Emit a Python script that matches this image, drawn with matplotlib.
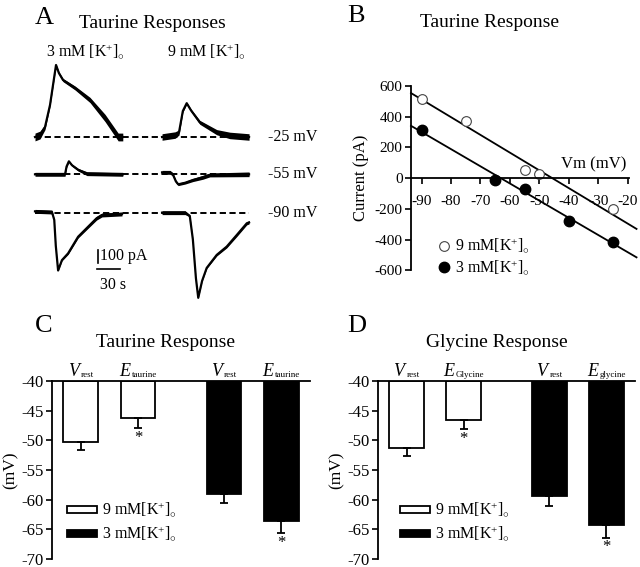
import numpy as np
import matplotlib
matplotlib.use("Agg")
import matplotlib.pyplot as plt
from matplotlib.patches import Patch

plt.rcParams['font.family'] = ['Liberation Serif', 'DejaVu Serif']
plt.rcParams['mathtext.fontset'] = 'custom'
plt.rcParams['mathtext.rm'] = 'Liberation Serif'
plt.rcParams['mathtext.it'] = 'Liberation Serif:italic'
plt.rcParams['axes.linewidth'] = 1.3
plt.rcParams['axes.unicode_minus'] = False

# ---- panel A: taurine current traces (time s, current pA, noise half-band pA)
hold_labels = ["-25 mV", "-55 mV", "-90 mV"]
k3_t = [[0, 6.5, 13, 19.5, 27.3, 31, 36.4, 52, 71.4, 91, 108, 114],
        [0, 39, 41, 44, 48, 56, 67.5, 114],
        [0, 22, 25, 27, 30, 35, 43, 56, 69, 80, 87, 113]]
k3_i = [[0, 15, 77, 246, 554, 492, 438, 377, 285, 146, 0, 0],
        [0, 0, 60, 100, 70, 35, 5, 0],
        [15, 10, -50, -250, -440, -360, -308, -180, -103, -38, -13, -5]]
k3_n = [[30, 30, 20, 10, 8, 10, 12, 15, 20, 28, 30, 30],
        [15, 15, 8, 6, 8, 10, 15, 15],
        [15, 15, 5, 3, 3, 5, 8, 10, 12, 14, 15, 15]]
k9_t = [[0, 17, 22, 27, 32, 37.7, 49, 71, 88, 113],
        [0, 10.4, 14, 18, 21, 30, 40, 53, 62, 113],
        [0, 30, 36, 40, 44, 47, 52, 58, 71, 84, 97, 110, 113]]
k9_i = [[0, 15, 35, 200, 260, 204, 113, 37, 12, 0],
        [15, 15, 0, -55, -77, -65, -44, -23, -5, 0],
        [5, 5, -20, -200, -500, -650, -520, -420, -320, -256, -167, -77, -70]]
k9_n = [[25, 25, 20, 10, 8, 10, 15, 20, 25, 25],
        [15, 15, 12, 10, 10, 10, 12, 15, 15, 18],
        [15, 15, 8, 3, 3, 3, 3, 5, 8, 10, 12, 12, 12]]

# ---- panel B: I-V relation
vm_9 = [-90, -75, -55, -50, -25]
cur_9 = [516, 373, 54, 28, -202]
vm_3 = [-90, -65, -55, -40, -25]
cur_3 = [314, -11, -72, -276, -417]
fit_vm = [-93.6, -17.0]
fit_9 = [554, -330]
fit_3 = [341, -515]

# ---- panels C, D: reversal potentials (symbol, subscript)
tau_labels = [('V', 'rest'), ('E', 'taurine'), ('V', 'rest'), ('E', 'taurine')]
tau_mean = [-50.3, -46.2, -59.0, -63.6]
tau_err = [1.3, 1.8, 1.5, 2.1]
tau_sig = [False, True, False, True]
gly_labels = [('V', 'rest'), ('E', 'Glycine'), ('V', 'rest'), ('E', 'glycine')]
gly_mean = [-51.3, -46.6, -59.3, -64.2]
gly_err = [1.3, 1.5, 1.7, 2.2]
gly_sig = [False, True, False, True]
k_lab9 = r'9 mM[K$^{+}$]$_{\circ}$'
k_lab3 = r'3 mM[K$^{+}$]$_{\circ}$'

W, H = 640, 567
fig = plt.figure(figsize=(W / 100, H / 100), dpi=100)


def px_axes(x0, y0, x1, y1):
    return fig.add_axes([x0 / W, 1 - y1 / H, (x1 - x0) / W, (y1 - y0) / H])


def ftext(x, y, s, **kw):
    return fig.text(x / W, 1 - y / H, s, **kw)


# ================= A
axA = px_axes(30, 55, 330, 300)
axA.set_xlim(-6.5, (330 - 35) / 0.77)
axA.set_ylim((137 - 300) / 0.13, (137 - 55) / 0.13)
axA.axis('off')
row_off = [0, -287, -587]
grp_off = [0, 165]
for r in range(3):
    axA.plot([0, 278], [row_off[r]] * 2, color='k', lw=1.4, ls=(0, (3.2, 1.8)), zorder=1)
    for g, (tt, ii, nn) in enumerate([(k3_t, k3_i, k3_n), (k9_t, k9_i, k9_n)]):
        t = np.array(tt[r]) + grp_off[g]
        i = np.array(ii[r]) + row_off[r]
        n = np.array(nn[r])
        axA.fill_between(t, i - n, i + n, color='k', lw=0, zorder=2)
        axA.plot(t, i, color='k', lw=1.6, zorder=3)
    axA.text(302, row_off[r], hold_labels[r], fontsize=11.5, va='center', ha='left')
# scale bars
axA.plot([81.8, 81.8], [-869, -969], color='k', lw=1.2)
axA.plot([80.5, 110.5], [-1015, -1015], color='k', lw=1.2)
axA.text(85, -919, '100 pA', fontsize=11.5, va='center', ha='left')
axA.text(85, -1140, '30 s', fontsize=11.5, va='center', ha='left')
ftext(35, 24, 'A', fontsize=19, va='baseline')
ftext(152, 28, 'Taurine Responses', fontsize=14, ha='center', va='baseline')
ftext(85, 57, r'3 mM [K$^{+}$]$_{\circ}$', fontsize=11.5, ha='center', va='baseline')
ftext(206, 57, r'9 mM [K$^{+}$]$_{\circ}$', fontsize=11.5, ha='center', va='baseline')

# ================= B
axB = px_axes(411, 86, 638, 270.4)
axB.set_xlim(-93.6, -16.5)
axB.set_ylim(-600, 600)
axB.spines['top'].set_visible(False)
axB.spines['right'].set_visible(False)
axB.spines['bottom'].set_position(('data', 0))
axB.spines['bottom'].set_bounds(-93.6, -19.6)
axB.plot(fit_vm, fit_9, color='k', lw=1.3, clip_on=False)
axB.plot(fit_vm, fit_3, color='k', lw=1.3, clip_on=False)
axB.plot(vm_9, cur_9, 'o', ms=7, mfc='white', mec='#444444', mew=0.8, label=k_lab9, clip_on=False)
axB.plot(vm_3, cur_3, 'o', ms=7.5, mfc='black', mec='black', label=k_lab3, clip_on=False)
axB.set_xticks(range(-90, -19, 10))
axB.set_yticks(range(-600, 601, 200))
axB.tick_params(axis='x', direction='out', length=4, width=1.2, pad=8, labelsize=11)
axB.tick_params(axis='y', direction='out', length=4, width=1.2, pad=2, labelsize=11)
axB.set_ylabel('Current (pA)', fontsize=12, labelpad=4)
axB.text(-20.5, 40, 'Vm (mV)', fontsize=12, ha='right', va='bottom')
axB.legend(loc='upper left', bbox_to_anchor=((434 - 411) / 227, (270.4 - 237) / 184.4),
           frameon=False, fontsize=11.5, handletextpad=0.1, labelspacing=0.2,
           borderaxespad=0, borderpad=0, handlelength=1.2)
ftext(347, 22, 'B', fontsize=19, va='baseline')
ftext(490, 27, 'Taurine Response', fontsize=14, ha='center', va='baseline')

sub_pairs = []


# ================= C, D
def bar_panel(x0, x1, labels, means, errs, sig, letter, title, tx, lx, leg_x):
    ax = px_axes(x0, 381, x1, 559)
    pos = [0, 1, 2.5, 3.5]
    cols = ['white', 'white', 'black', 'black']
    base = -40
    hts = [m - base for m in means]
    ax.bar(pos, hts, bottom=base, width=0.61, color=cols, edgecolor='k', lw=1.3)
    ax.errorbar(pos, means, yerr=[errs, [0] * 4], fmt='none', ecolor='k', elinewidth=1.3,
                capsize=3, capthick=1.3)
    for p, m, e, s in zip(pos, means, errs, sig):
        if s:
            ax.text(p, m - e - 0.3, '*', ha='center', va='top', fontsize=12)
    for p, (sym, sub) in zip(pos, labels):
        t1 = ax.text(p, -39.1, sym, ha='left', va='baseline', fontsize=13, style='italic')
        t2 = ax.text(p, -39.4, sub, ha='left', va='baseline', fontsize=6.5)
        sub_pairs.append((ax, p, t1, t2))
    ax.set_xlim(-0.5, 4.0)
    ax.set_ylim(-70, -40)
    ax.spines['right'].set_visible(False)
    ax.spines['bottom'].set_visible(False)
    ax.set_xticks([])
    ax.set_yticks(range(-70, -39, 5))
    ax.tick_params(axis='y', direction='out', length=4, width=1.2, pad=2, labelsize=12)
    ax.set_ylabel('(mV)', fontsize=12.5, labelpad=2)
    ax.legend([Patch(facecolor='white', edgecolor='k', lw=1.3),
               Patch(facecolor='black', edgecolor='k', lw=1.3)], [k_lab9, k_lab3],
              loc='upper left', bbox_to_anchor=((leg_x - x0) / (x1 - x0), (559 - 501) / 178),
              frameon=False, fontsize=11.5, handlelength=1.9, handleheight=0.35,
              handletextpad=0.3, labelspacing=0.35, borderaxespad=0, borderpad=0)
    ftext(lx, 332, letter, fontsize=19, va='baseline')
    ftext(tx, 347, title, fontsize=14, ha='center', va='baseline')
    return ax


bar_panel(52, 310, tau_labels, tau_mean, tau_err, tau_sig, 'C', 'Taurine Response', 166, 35, 67)
bar_panel(378, 635, gly_labels, gly_mean, gly_err, gly_sig, 'D', 'Glycine Response', 497, 347, 400)

# centre each symbol+subscript pair over its bar
fig.canvas.draw()
rend = fig.canvas.get_renderer()
for ax, p, t1, t2 in sub_pairs:
    w1 = t1.get_window_extent(rend).width + 2
    w2 = t2.get_window_extent(rend).width
    inv = ax.transData.inverted()
    px0 = ax.transData.transform((p, 0))[0]
    start = px0 - (w1 + w2) / 2
    t1.set_x(inv.transform((start, 0))[0])
    t2.set_x(inv.transform((start + w1, 0))[0])

fig.savefig('out.png', dpi=100)
